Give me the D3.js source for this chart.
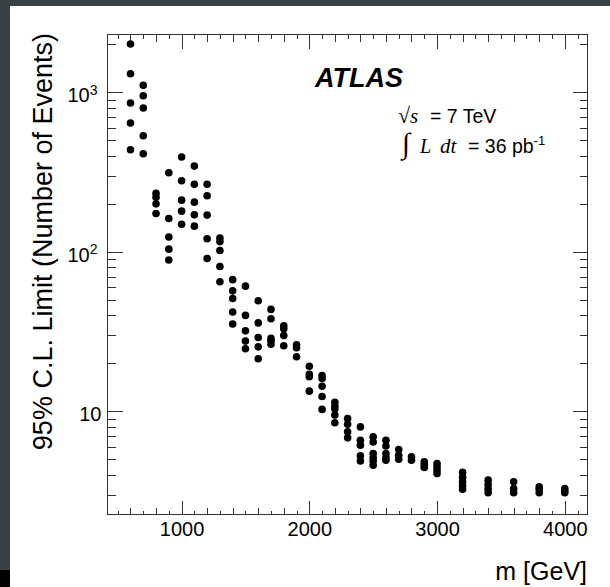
<!DOCTYPE html>
<html lang="en">
<head>
<meta charset="utf-8">
<title>ATLAS limit</title>
<style>
    body { margin: 0; background: #fff; }
    svg { display: block; }
    text { font-family: "Liberation Sans", Arimo, Helvetica, sans-serif; fill: #000; }
    .tick line { stroke: #333; shape-rendering: crispEdges; }
    .tick text { font-size: 20px; }
    .serif { font-family: "Liberation Serif", "DejaVu Serif", serif; }
</style>
<script src="https://cdn.jsdelivr.net/npm/d3@7/dist/d3.min.js"></script>
</head>
<body>
<svg width="610" height="587"></svg>
<script>
    // mass points [GeV]
    const masses = [600, 700, 800, 900, 1000, 1100, 1200, 1300, 1400, 1500,
        1600, 1700, 1800, 1900, 2000, 2100, 2200, 2300, 2400, 2500,
        2600, 2700, 2800, 2900, 3000, 3200, 3400, 3600, 3800, 4000];

    // 95% CL limits (events), one list per mass point
    const limits = [
        [2009, 1308, 857, 642, 437],
        [1106, 952, 797, 535, 412],
        [233, 220, 200, 174],
        [313, 162, 124, 104, 89],
        [393, 279, 211, 180, 149],
        [345, 265, 205, 171, 145],
        [265, 225, 170, 121, 91],
        [122, 116, 102, 81, 65],
        [67, 57, 51, 42, 35.3],
        [61, 40, 32, 27.6, 24.7],
        [49.4, 35.9, 29.1, 25.4, 21.4],
        [43.6, 38.1, 28.7, 27.6, 26.4],
        [34.4, 33, 29.9, 25.8],
        [26.2, 25.1, 22],
        [19.2, 17.1, 16.5, 13.4],
        [16.8, 16.1, 14.4, 12.4, 10.3],
        [11.4, 10.8, 10.4, 9.5, 8.5],
        [9.04, 8.32, 7.45, 6.83],
        [8.0, 6.6, 6.15, 5.27, 4.9],
        [6.93, 6.44, 5.45, 5.15, 4.9, 4.6],
        [6.6, 6.07, 5.45, 5.15, 4.95],
        [5.78, 5.32, 5.02],
        [5.19, 4.95],
        [4.83, 4.65, 4.46],
        [4.72, 4.5, 4.29, 4.09],
        [4.15, 3.86, 3.62, 3.42, 3.25],
        [3.71, 3.48, 3.27, 3.09],
        [3.62, 3.29, 3.09],
        [3.37, 3.25, 3.09],
        [3.29, 3.18, 3.09]
    ];

    const xDomain = [420, 4178];
    const yDomain = [2.26, 2304];
    const xMajor = [1000, 2000, 3000, 4000];
    const yMajor = [10, 100, 1000];

    let svg = d3.select("svg");

    // dark window border
    svg.append("rect").attr("x", 0).attr("y", 0).attr("width", 610).attr("height", 6).attr("fill", "#3a4144");
    svg.append("rect").attr("x", 0).attr("y", 0).attr("width", 10).attr("height", 570).attr("fill", "#3a4144");
    svg.append("rect").attr("x", 0).attr("y", 570).attr("width", 10).attr("height", 17).attr("fill", "#000");

    const pLeft = 107.5, pRight = 587.5, pTop = 34.5, pBottom = 514.5;

    let x = d3.scaleLinear().domain(xDomain).range([pLeft, pRight]);
    let y = d3.scaleLog().domain(yDomain).range([pBottom, pTop]);

    let xMid = d3.range(600, 4200, 200).filter(d => d % 1000 != 0);
    let xMin = d3.range(500, 4200, 100).filter(d => d % 200 != 0);
    let yMin = [];
    [1, 10, 100, 1000].forEach(p => d3.range(2, 10).forEach(k => {
        let v = k * p;
        if (v > yDomain[0] && v < yDomain[1] && !yMajor.includes(v)) yMin.push(v);
    }));

    const noDomain = g => g.select(".domain").remove();

    function xAxes(vals, size, labels) {
        svg.append("g").attr("transform", "translate(0," + pBottom + ")")
            .call(d3.axisBottom(x).tickValues(vals).tickSize(-size).tickPadding(7)
                .tickFormat(labels ? d3.format("d") : ""))
            .call(noDomain);
        svg.append("g").attr("transform", "translate(0," + pTop + ")")
            .call(d3.axisTop(x).tickValues(vals).tickSize(-size).tickFormat(""))
            .call(noDomain);
    }
    xAxes(xMajor, 14, true);
    xAxes(xMid, 7, false);
    xAxes(xMin, 4, false);

    function yAxes(vals, size, labels) {
        let g = svg.append("g").attr("transform", "translate(" + pLeft + ",0)")
            .call(d3.axisLeft(y).tickValues(vals).tickSize(-size).tickPadding(6).tickFormat(""))
            .call(noDomain);
        svg.append("g").attr("transform", "translate(" + pRight + ",0)")
            .call(d3.axisRight(y).tickValues(vals).tickSize(-size).tickFormat(""))
            .call(noDomain);
        if (labels) {
            g.selectAll(".tick text").each(function(d) {
                let t = d3.select(this).attr("dy", "0.47em");
                let e = Math.round(Math.log10(d));
                t.append("tspan").text("10");
                if (e > 1) {
                    t.attr("x", -10);
                    t.append("tspan").attr("font-size", "14px").attr("dy", "-0.55em").text(e);
                }
            });
        }
    }
    yAxes(yMajor, 15, true);
    yAxes(yMin, 8, false);

    // frame
    svg.append("rect")
        .attr("x", pLeft).attr("y", pTop)
        .attr("width", pRight - pLeft).attr("height", pBottom - pTop)
        .attr("fill", "none").attr("stroke", "#333").attr("stroke-width", 1);

    // markers
    let pts = [];
    masses.forEach((m, i) => limits[i].forEach(v => pts.push([m, v])));
    svg.append("g").selectAll("circle")
        .data(pts)
        .enter().append("circle")
        .attr("cx", d => x(d[0]))
        .attr("cy", d => y(d[1]))
        .attr("r", 3.8)
        .attr("fill", "#000");

    // axis titles
    svg.append("text")
        .attr("transform", "translate(52,33) rotate(-90)")
        .attr("text-anchor", "end")
        .style("font-size", "27px")
        .text("95% C.L. Limit (Number of Events)");

    svg.append("text")
        .attr("x", 587).attr("y", 580)
        .attr("text-anchor", "end")
        .style("font-size", "25px")
        .text("m [GeV]");

    // labels
    svg.append("text")
        .attr("x", 315).attr("y", 87)
        .style("font-size", "27px")
        .style("font-weight", "bold")
        .style("font-style", "italic")
        .text("ATLAS");

    let l1 = svg.append("text").attr("y", 123).style("font-size", "19.5px");
    l1.append("tspan").attr("x", 398).attr("class", "serif").style("font-size", "22px").text("√");
    l1.append("tspan").attr("x", 410).attr("class", "serif").style("font-style", "italic").style("font-size", "21px").text("s");
    l1.append("tspan").attr("x", 430).text("= 7 TeV");

    let l2 = svg.append("text").attr("y", 152.5).style("font-size", "19.5px");
    l2.append("tspan").attr("x", 402).attr("class", "serif").style("font-size", "29px").text("∫");
    l2.append("tspan").attr("x", 420).attr("class", "serif").style("font-style", "italic").style("font-size", "20px").text("L");
    l2.append("tspan").attr("x", 440).attr("class", "serif").style("font-style", "italic").style("font-size", "21px").text("dt");
    l2.append("tspan").attr("x", 468).text("= 36 pb");
    l2.append("tspan").attr("dy", "-0.55em").style("font-size", "13px").text("-1");
</script>
</body>
</html>
